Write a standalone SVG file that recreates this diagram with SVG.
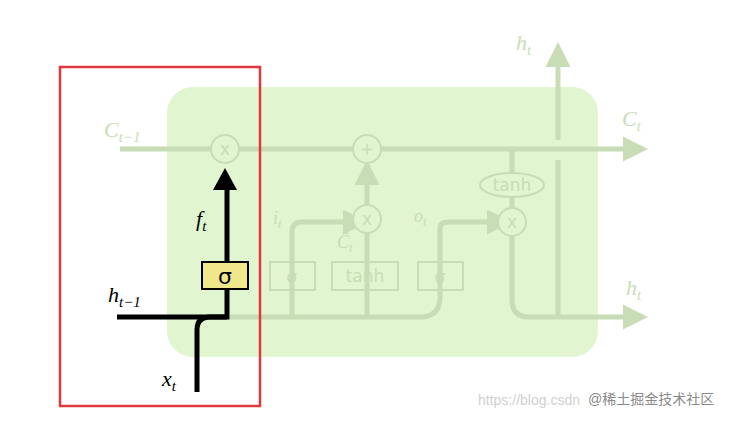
<svg xmlns="http://www.w3.org/2000/svg" width="738" height="421" viewBox="0 0 738 421">
<style>
.f{stroke:#c8ddb6;stroke-width:5;fill:none}
.fc{stroke:#c8ddb6;stroke-width:2;fill:#e0f5d0}
.fb{stroke:#c8ddb6;stroke-width:2;fill:none}
.ft{fill:#c8ddb6;font-family:"DejaVu Sans",sans-serif;font-size:17px;text-anchor:middle}
.m{font-family:"Liberation Serif",serif;font-style:italic}
.k{stroke:#000;stroke-width:5;fill:none}
</style>
<defs>
<marker id="fa" viewBox="0 0 10 10" refX="2" refY="5" markerWidth="5" markerHeight="5" orient="auto" markerUnits="strokeWidth"><path d="M0,0L10,5L0,10z" fill="#c8ddb6"/></marker>
</defs>
<rect width="738" height="421" fill="#fff"/>
<g id="cell"><rect x="167" y="87" width="431" height="270" rx="26" fill="#e0f5d0"/></g>
<g id="connectors">
<path class="f" d="M120,149H628" marker-end="url(#fa)"/>
<path class="f" d="M230,317H420q20,0 20,-20V228q0,-6 8,-6H492" marker-end="url(#fa)"/>
<path class="f" d="M292,317V232q0,-10 10,-10H348" marker-end="url(#fa)"/>
<path class="f" d="M367,317V233"/>
<path class="f" d="M367,205V180" marker-end="url(#fa)"/>
<path class="f" d="M512,149V173"/>
<path class="f" d="M512,197V208"/>
<path class="f" d="M512,236V300q0,17 17,17H628" marker-end="url(#fa)"/>
<path class="f" d="M558,317V160"/>
<path class="f" d="M558,140V62" marker-end="url(#fa)"/>
<path class="k" d="M117,317H227V190"/>
<path d="M213,190L225,168L237,190z" fill="#000"/>
<path class="k" d="M197,392V330q0,-13 13,-13H227"/>
</g>
<g id="ops">
<circle class="fc" cx="225" cy="149" r="14"/><text class="ft" x="225" y="155">x</text>
<circle class="fc" cx="367" cy="149" r="14"/><text class="ft" x="367" y="155">+</text>
<circle class="fc" cx="367" cy="219" r="14"/><text class="ft" x="367" y="225">x</text>
<circle class="fc" cx="512" cy="222" r="14"/><text class="ft" x="512" y="228">x</text>
<ellipse class="fc" cx="512" cy="185" rx="32" ry="12"/><text class="ft" x="512" y="191">tanh</text>
<rect class="fb" x="270" y="262" width="45" height="28"/><text class="ft" x="292" y="283" font-size="21">σ</text>
<rect class="fb" x="332" y="262" width="66" height="28"/><text class="ft" x="365" y="282">tanh</text>
<rect class="fb" x="418" y="262" width="45" height="28"/><text class="ft" x="440" y="283" font-size="21">σ</text>
</g>
<g id="forget">
<rect x="202" y="262" width="46" height="27" fill="#f0e68c" stroke="#000" stroke-width="2"/>
<text x="225" y="284" font-family="DejaVu Sans,sans-serif" font-size="22" text-anchor="middle">σ</text>
</g>
<g id="labels" font-size="22">
<text class="m" x="104" y="137" fill="#c8ddb6">C<tspan font-size="15" dy="5">t−1</tspan></text>
<text class="m" x="622" y="126" fill="#c8ddb6">C<tspan font-size="15" dy="5">t</tspan></text>
<text class="m" x="516" y="50" fill="#c8ddb6">h<tspan font-size="15" dy="5">t</tspan></text>
<text class="m" x="626" y="295" fill="#c8ddb6">h<tspan font-size="15" dy="5">t</tspan></text>
<text class="m" x="273" y="224" fill="#c8ddb6" font-size="18">i<tspan font-size="13" dy="4">t</tspan></text>
<text class="m" x="414" y="222" fill="#c8ddb6" font-size="18">o<tspan font-size="13" dy="4">t</tspan></text>
<text class="m" x="337" y="248" fill="#c8ddb6" font-size="18">C̃<tspan font-size="13" dy="4">t</tspan></text>
<text class="m" x="196" y="226">f<tspan font-size="15" dy="5">t</tspan></text>
<text class="m" x="108" y="302">h<tspan font-size="15" dy="5">t−1</tspan></text>
<text class="m" x="162" y="386">x<tspan font-size="15" dy="5">t</tspan></text>
</g>
<rect x="60" y="67" width="200" height="339" fill="none" stroke="#e0383e" stroke-width="2.5"/>
<text x="478" y="405" font-family="Liberation Sans,Noto Sans CJK SC,sans-serif" font-size="14" fill="#d0d0d0">https://blog.csdn</text>
<text x="588" y="404" font-family="Liberation Sans,Noto Sans CJK SC,sans-serif" font-size="14" fill="#8a8a8a">@稀土掘金技术社区</text>
</svg>
